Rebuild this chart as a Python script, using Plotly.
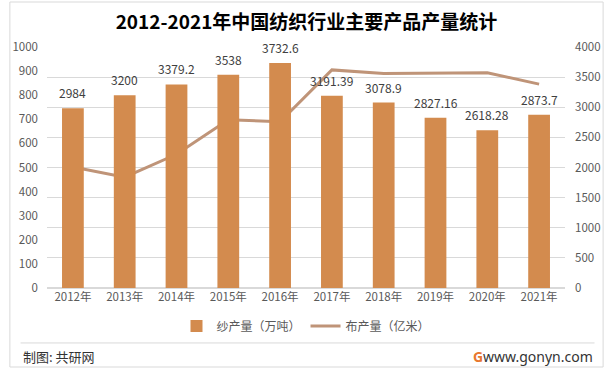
import plotly.graph_objects as go

years = ["2012年", "2013年", "2014年", "2015年", "2016年", "2017年", "2018年", "2019年", "2020年", "2021年"]
yarn = [2984, 3200, 3379.2, 3538, 3732.6, 3191.39, 3078.9, 2827.16, 2618.28, 2873.7]
yarn_labels = ["2984", "3200", "3379.2", "3538", "3732.6", "3191.39", "3078.9", "2827.16", "2618.28", "2873.7"]
cloth = [502, 460, 555, 698, 690, 905, 890, 893, 893, 846]

FONT = "Noto Sans CJK SC"
BAR_C = "#D38B4E"
LINE_C = "#BF9478"

fig = go.Figure()
fig.add_trace(go.Bar(
    x=years, y=yarn, name="纱产量（万吨）", yaxis="y2",
    marker=dict(color=BAR_C, line=dict(width=0)), width=0.42,
))
fig.add_trace(go.Scatter(
    x=years, y=cloth, name="布产量（亿米）", yaxis="y",
    mode="lines", line=dict(color=LINE_C, width=3),
))

for xv, yv, lab in zip(years, yarn, yarn_labels):
    fig.add_annotation(x=xv, y=yv, xref="x", yref="y2", text=lab, showarrow=False,
                       yanchor="bottom", yshift=5,
                       font=dict(size=12, color="#404040", family=FONT))

fig.update_layout(
    width=613, height=370,
    margin=dict(l=40, r=43, t=47, b=82),
    paper_bgcolor="white", plot_bgcolor="white",
    font=dict(family=FONT, color="#595959", size=11),
    title=dict(text="<b>2012-2021年中国纺织行业主要产品产量统计</b>",
               x=0.5, xanchor="center", y=0.94, yanchor="middle",
               font=dict(size=19, color="#000000", family=FONT)),
    xaxis=dict(showgrid=False, showline=False, ticks="", tickfont=dict(size=11.5, color="#595959")),
    yaxis=dict(range=[0, 1000], dtick=100, showgrid=False, zeroline=False,
               showline=False, ticks="", ticklabelstandoff=8,
               tickfont=dict(size=11.5, color="#595959")),
    yaxis2=dict(range=[0, 4000], dtick=500, overlaying="y", side="right",
                showgrid=True, gridcolor="#D9D9D9", gridwidth=1, zeroline=True,
                zerolinecolor="#D9D9D9", showline=False, ticks="", ticklabelstandoff=9,
                tickfont=dict(size=11.5, color="#595959")),
    legend=dict(orientation="h", x=0.5, xanchor="center", y=-0.158, yanchor="middle",
                font=dict(size=12, color="#595959"), traceorder="normal",
                itemwidth=30, bgcolor="rgba(0,0,0,0)"),
    showlegend=True,
)

# separator line and border
fig.add_shape(type="line", xref="paper", yref="paper", x0=-0.051, x1=1.057, y0=-0.228, y1=-0.228,
              line=dict(color="#D9D9D9", width=1))
fig.add_shape(type="rect", xref="paper", yref="paper",
              x0=(2 - 40) / 530, x1=(609 - 40) / 530, y0=(288 - 367) / 241, y1=(288 - 2) / 241,
              line=dict(color="#D9D9D9", width=1), fillcolor="rgba(0,0,0,0)", layer="below")

fig.add_annotation(text="制图: 共研网", xref="paper", yref="paper", x=(13 - 40) / 530, xanchor="left",
                   y=(288 - 356) / 241, yanchor="middle", showarrow=False,
                   font=dict(size=13, color="#333333", family=FONT))
fig.add_annotation(text="www.gonyn.com", xref="paper", yref="paper", x=(601 - 40) / 530, xanchor="right",
                   y=(288 - 356) / 241, yanchor="middle", showarrow=False,
                   font=dict(size=14, color="#333333", family="Noto Sans"))
fig.add_annotation(text="<b>G</b>", xref="paper", yref="paper", x=(481 - 40) / 530, xanchor="center",
                   y=(288 - 356) / 241, yanchor="middle", showarrow=False,
                   font=dict(size=14, color="#E8772E", family="Noto Sans"))

fig.write_html("out.html", config={"displayModeBar": False},
               post_script="document.body.style.margin='0';document.body.style.overflow='hidden';")
